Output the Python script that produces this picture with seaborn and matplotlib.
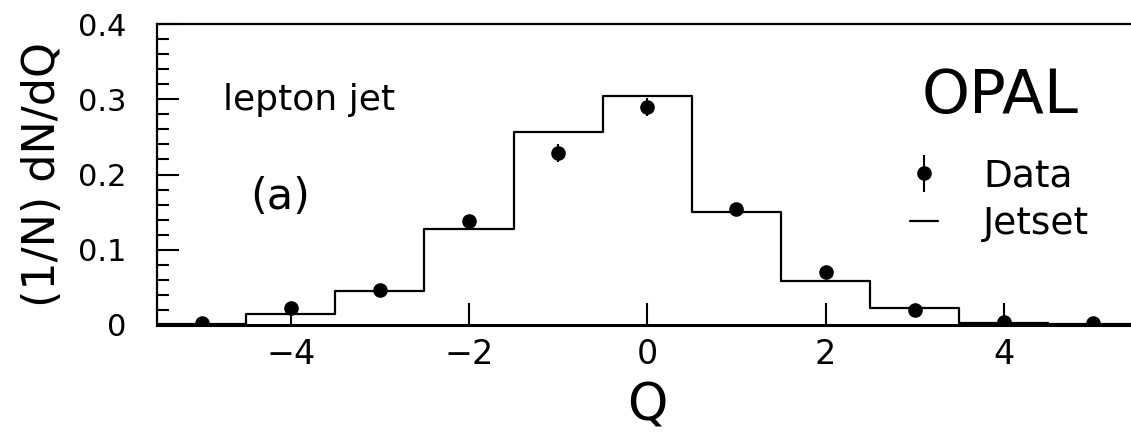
import numpy as np
import pandas as pd
import matplotlib
matplotlib.use("Agg")
import matplotlib.pyplot as plt
from matplotlib.ticker import MultipleLocator
from matplotlib.lines import Line2D
import seaborn as sns

# ---- data ----
q_values = [-5, -4, -3, -2, -1, 0, 1, 2, 3, 4, 5]
data_values = [0.002, 0.023, 0.046, 0.138, 0.228, 0.290, 0.154, 0.070, 0.020, 0.004, 0.002]
data_errors = [0.002, 0.004, 0.004, 0.006, 0.012, 0.012, 0.006, 0.005, 0.003, 0.002, 0.002]
jetset_values = [0.001, 0.014, 0.045, 0.128, 0.256, 0.304, 0.150, 0.058, 0.022, 0.003, 0.001]
bin_edges = [-5.5, -4.5, -3.5, -2.5, -1.5, -0.5, 0.5, 1.5, 2.5, 3.5, 4.5, 5.5]
x_ticks = [-4, -2, 0, 2, 4]
x_tick_labels = ["\u22124", "\u22122", "0", "2", "4"]
y_ticks = [0, 0.1, 0.2, 0.3, 0.4]
y_tick_labels = ["0", "0.1", "0.2", "0.3", "0.4"]

df = pd.DataFrame({"Q": q_values, "data": data_values, "err": data_errors, "jetset": jetset_values})

sns.set_style("ticks")
plt.rcParams["font.family"] = ["DejaVu Sans"]
plt.rcParams["text.color"] = "black"
plt.rcParams["axes.labelcolor"] = "black"
plt.rcParams["xtick.color"] = "black"
plt.rcParams["ytick.color"] = "black"

fig = plt.figure(figsize=(11.31, 4.38), dpi=100)
ax = fig.add_axes([157 / 1131, 1 - 325 / 438, (1137.5 - 157) / 1131, (325 - 24) / 438])

sns.histplot(data=df, x="Q", weights="jetset", bins=bin_edges, element="step",
             fill=False, color="black", linewidth=1.6, ax=ax)

eb = ax.errorbar(df["Q"], df["data"], yerr=df["err"], fmt="o", color="black",
                 markersize=9.5, elinewidth=1.5, capsize=0, zorder=5)

ax.set_xlim(-5.5, 5.5)
ax.set_ylim(0, 0.4)
ax.set_xticks(x_ticks)
ax.set_xticklabels(x_tick_labels)
ax.set_yticks(y_ticks)
ax.set_yticklabels(y_tick_labels)
ax.yaxis.set_minor_locator(MultipleLocator(0.02))

ax.tick_params(axis="y", which="major", direction="in", length=16, width=1.5,
               labelsize=22, colors="black", pad=22)
ax.tick_params(axis="y", which="minor", direction="in", length=8.5, width=1.5)
ax.tick_params(axis="x", which="major", direction="in", length=16, width=1.5,
               labelsize=24, colors="black", pad=9)

for side in ["left", "top", "right"]:
    ax.spines[side].set_linewidth(1.6)
    ax.spines[side].set_color("black")
ax.spines["bottom"].set_linewidth(2.2)
ax.spines["bottom"].set_color("black")

ax.set_xlabel("Q", fontsize=37, labelpad=8)
ax.set_ylabel("(1/N) dN/dQ", fontsize=32, labelpad=10)

fig.text(223 / 1131, 1 - 100 / 438, "lepton jet", fontsize=26, va="center", ha="left")
fig.text(250 / 1131, 1 - 197 / 438, "(a)", fontsize=31, va="center", ha="left")
fig.text(1000 / 1131, 1 - 97 / 438, "OPAL", fontsize=44, va="center", ha="center")

jet_handle = Line2D([0], [0], color="black", linewidth=1.6)
leg = ax.legend([eb, jet_handle], ["Data", "Jetset"], loc="center left",
                bbox_to_anchor=(910 / 1131, 1 - 200 / 438),
                bbox_transform=fig.transFigure, frameon=False, fontsize=27,
                handlelength=0.75, handletextpad=1.2, labelspacing=0.3,
                borderpad=0, borderaxespad=0)

fig.savefig("out.png", dpi=100)
